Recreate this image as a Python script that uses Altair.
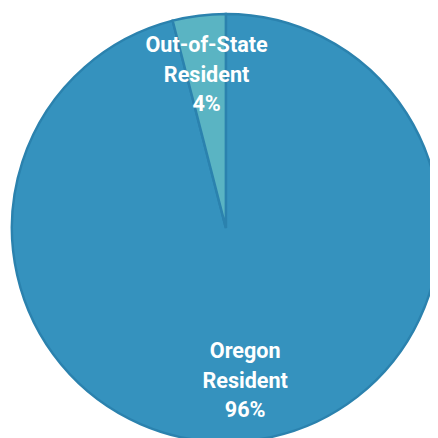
import altair as alt
import pandas as pd

categories = ["Oregon Resident", "Out-of-State Resident"]
values = [96, 4]
labels = ["Oregon\nResident\n96%", "Out-of-State\nResident\n4%"]
order = [0, 1]
colors = ["#3592be", "#5ab4c3"]

df = pd.DataFrame({"category": categories, "value": values, "label": labels, "order": order})

base = alt.Chart(df).encode(
    theta=alt.Theta("value:Q", stack=True),
    order=alt.Order("order:Q"),
    x=alt.value(222),
    y=alt.value(220),
)

pie = base.mark_arc(radius=218, stroke="#2b82ae", strokeWidth=2.5).encode(
    color=alt.Color("category:N", scale=alt.Scale(domain=categories, range=colors), legend=None)
)

text = base.mark_text(
    radius=157, lineBreak="\n", lineHeight=30, fontSize=22, fontWeight="bold",
    font="Roboto", color="white", align="center", baseline="middle", dy=-30
).encode(text="label:N")

chart = (pie + text).properties(
    width=430, height=430, padding=0,
    autosize=alt.AutoSizeParams(type="none")
).configure_view(stroke=None)

chart.save("out.html", embed_options={"renderer": "svg", "actions": False})
